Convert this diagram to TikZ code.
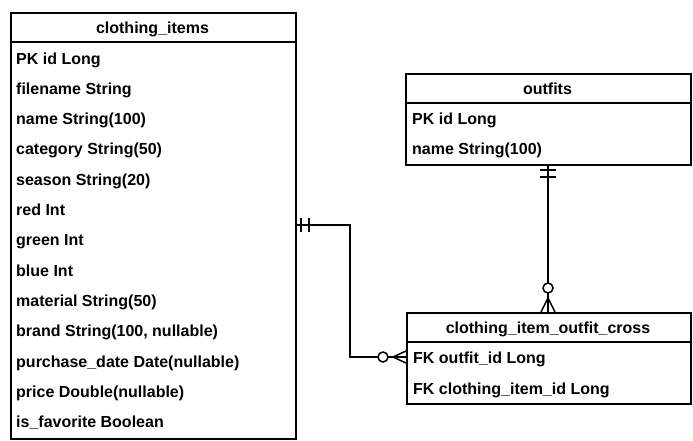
\documentclass[tikz,border=0pt]{standalone}
\usepackage{fontspec}
\setmainfont{Liberation Sans}
\begin{document}
\begin{tikzpicture}[x=1pt,y=-1pt,
  every node/.style={font=\bfseries\fontsize{16}{19}\selectfont, inner sep=0pt},
  tbl/.style={draw, line width=1.5pt, anchor=north west, inner sep=0pt},
  row/.style={anchor=base west},
  hdr/.style={anchor=base},
  ln/.style={line width=1.5pt},
  conn/.style={line width=1.5pt}]
\useasboundingbox (0,0) rectangle (693,440);
% clothing_items
\node[tbl, minimum width=285pt, minimum height=426pt] (ci) at (10,12) {};
\node[hdr] (cih) at (152.5,33) {clothing\_items};
\draw[ln] (10,42) -- (295,42);
\node[row] (ci1) at (16,64) {PK id Long};
\node[row] (ci2) at (16,94.3) {filename String};
\node[row] (ci3) at (16,124.6) {name String(100)};
\node[row] (ci4) at (16,154.9) {category String(50)};
\node[row] (ci5) at (16,185.2) {season String(20)};
\node[row] (ci6) at (16,215.5) {red Int};
\node[row] (ci7) at (16,245.8) {green Int};
\node[row] (ci8) at (16,276.1) {blue Int};
\node[row] (ci9) at (16,306.4) {material String(50)};
\node[row] (ci10) at (16,336.7) {brand String(100, nullable)};
\node[row] (ci11) at (16,367) {purchase\_date Date(nullable)};
\node[row] (ci12) at (16,397.3) {price Double(nullable)};
\node[row] (ci13) at (16,427.6) {is\_favorite Boolean};
% outfits
\node[tbl, minimum width=285pt, minimum height=91pt] (of) at (405,73) {};
\node[hdr] (ofh) at (547.5,94) {outfits};
\draw[ln] (405,103) -- (690,103);
\node[row] (of1) at (412,124) {PK id Long};
\node[row] (of2) at (412,154) {name String(100)};
% cross
\node[tbl, minimum width=284pt, minimum height=91pt] (cr) at (406,312) {};
\node[hdr] (crh) at (548,333) {clothing\_item\_outfit\_cross};
\draw[ln] (406,342) -- (690,342);
\node[row] (cr1) at (413,363) {FK outfit\_id Long};
\node[row] (cr2) at (413,394) {FK clothing\_item\_id Long};
% connector clothing_items -> cross
\coordinate (j1) at (350,225);
\coordinate (e1) at (406,357);
\draw[conn] (ci.east |- j1) -- (j1) |- (e1);
\draw[conn] (301,218) -- (301,232) (309,218) -- (309,232);
\draw[conn, fill=white] (383,357) circle (5);
\draw[conn] (393,357) -- (406,351) (393,357) -- (406,363);
% connector outfits -> cross
\coordinate (j2) at (548,164);
\draw[conn] (j2) -- (cr.north -| j2);
\draw[conn] (540,170) -- (556,170) (540,177) -- (556,177);
\draw[conn, fill=white] (548,288) circle (5);
\draw[conn] (548,298) -- (541,312) (548,298) -- (555,312);
\end{tikzpicture}
\end{document}
